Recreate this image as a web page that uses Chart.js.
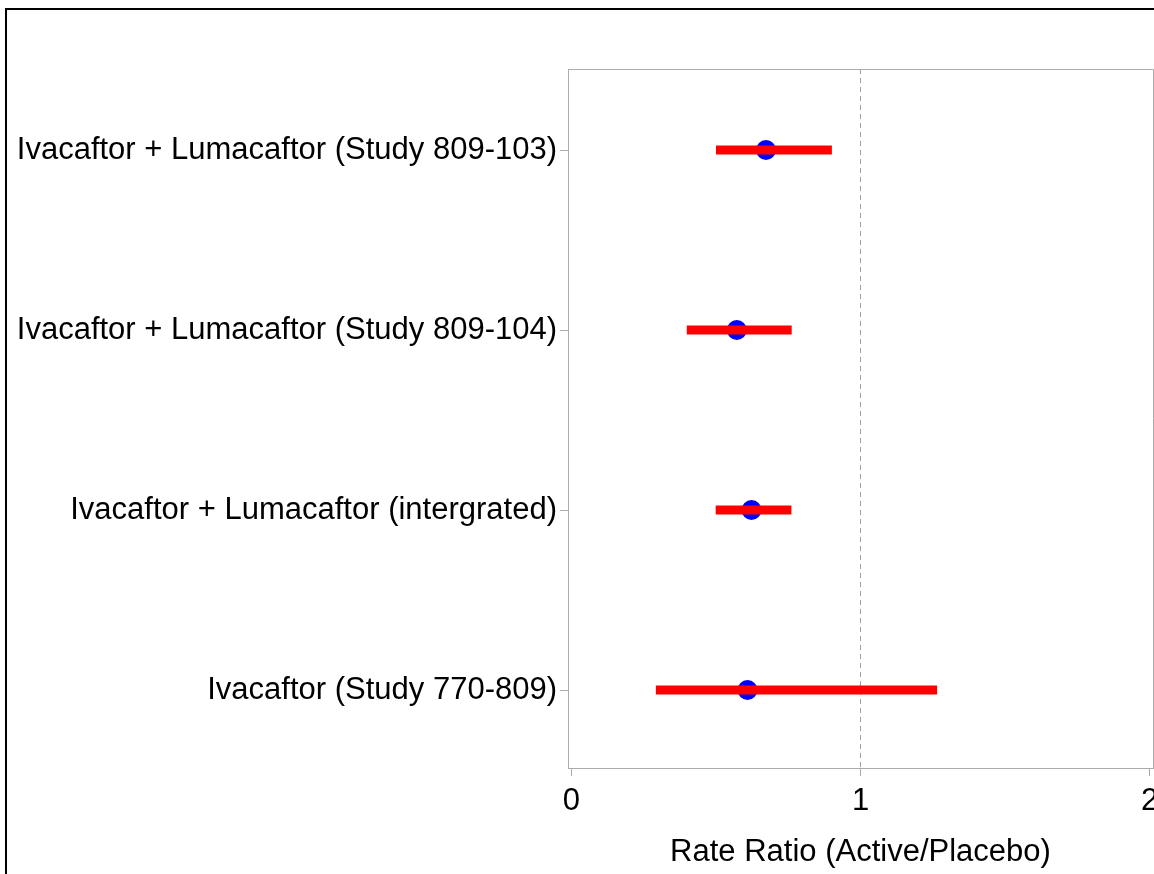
<!DOCTYPE html>
<html>
<head>
<meta charset="utf-8">
<script src="https://cdn.jsdelivr.net/npm/chart.js@4/dist/chart.umd.min.js"></script>
<style>
    html, body { margin: 0; padding: 0; background: #fff; overflow: hidden; width: 1154px; height: 874px; }
    .frame { position: absolute; left: 5px; top: 8px; right: -10px; bottom: -10px; border-left: 2px solid #000; border-top: 2px solid #000; }
    #forest { position: absolute; left: 0; top: 0; }
</style>
</head>
<body>
<div class="frame"></div>
<canvas id="forest" width="1200" height="874"></canvas>
<script>
// data (top row first)
const studies = [
    'Ivacaftor + Lumacaftor (Study 809-103)',
    'Ivacaftor + Lumacaftor (Study 809-104)',
    'Ivacaftor + Lumacaftor (intergrated)',
    'Ivacaftor (Study 770-809)'
];
const rateRatio = [0.673, 0.572, 0.623, 0.609];
const lowerCI = [0.500, 0.399, 0.499, 0.292];
const upperCI = [0.901, 0.762, 0.761, 1.265];
const xTicks = [0, 1, 2];
const refValue = 1;

document.addEventListener('DOMContentLoaded', () => {
    const font = { family: "'Liberation Sans', Arial, sans-serif", size: 31 };
    const frameGray = '#ababab';

    // red CI bars, one dataset per study (listed first so they sit on top of the dots)
    const ciSets = studies.map((s, i) => ({
        label: s,
        data: [{ x: lowerCI[i], y: i }, { x: upperCI[i], y: i }],
        showLine: true,
        borderColor: '#ff0000',
        borderWidth: 9,
        borderCapStyle: 'butt',
        pointRadius: 0,
        order: 0
    }));

    const pointSet = {
        label: 'Rate ratio',
        data: rateRatio.map((v, i) => ({ x: v, y: i })),
        backgroundColor: '#0000ff',
        borderWidth: 0,
        pointRadius: 10,
        order: 1
    };

    // close the plot box on top and right
    const boxPlugin = {
        id: 'box',
        beforeDatasetsDraw(chart) {
            const { ctx, chartArea: a } = chart;
            ctx.save();
            ctx.strokeStyle = frameGray;
            ctx.lineWidth = 1;
            ctx.beginPath();
            ctx.moveTo(a.left, a.top + 0.5);
            ctx.lineTo(a.right + 0.5, a.top + 0.5);
            ctx.lineTo(a.right + 0.5, a.bottom);
            ctx.stroke();
            ctx.restore();
        }
    };

    new Chart(document.getElementById('forest'), {
        type: 'scatter',
        data: { datasets: [...ciSets, pointSet] },
        options: {
            responsive: false,
            animation: false,
            events: [],
            layout: { padding: { left: 0, top: 69, right: 47, bottom: 0 } },
            plugins: { legend: { display: false }, tooltip: { enabled: false } },
            scales: {
                x: {
                    type: 'linear',
                    min: -0.012,
                    max: 2.012,
                    afterBuildTicks: scale => { scale.ticks = xTicks.map(v => ({ value: v })); },
                    afterFit: scale => { scale.height = 106; },
                    ticks: { color: '#000', font, padding: 7, maxRotation: 0 },
                    grid: {
                        drawOnChartArea: true,
                        color: c => (c.tick && c.tick.value === refValue ? '#a0a0a0' : 'rgba(0,0,0,0)'),
                        tickColor: frameGray,
                        tickLength: 8,
                        lineWidth: 1
                    },
                    border: { color: frameGray, width: 1, dash: [5, 4] },
                    title: {
                        display: true,
                        text: 'Rate Ratio (Active/Placebo)',
                        color: '#000',
                        font,
                        padding: { top: 0, bottom: 3 }
                    }
                },
                y: {
                    type: 'linear',
                    reverse: true,
                    min: -0.45,
                    max: 3.433,
                    afterBuildTicks: scale => { scale.ticks = studies.map((s, i) => ({ value: i })); },
                    afterFit: scale => { scale.width = 568; },
                    ticks: {
                        color: '#000',
                        font,
                        padding: 3,
                        callback: v => studies[v] || ''
                    },
                    grid: { drawOnChartArea: false, tickColor: frameGray, tickLength: 8 },
                    border: { color: frameGray, width: 1 }
                }
            }
        },
        plugins: [boxPlugin]
    });
});
</script>
</body>
</html>
